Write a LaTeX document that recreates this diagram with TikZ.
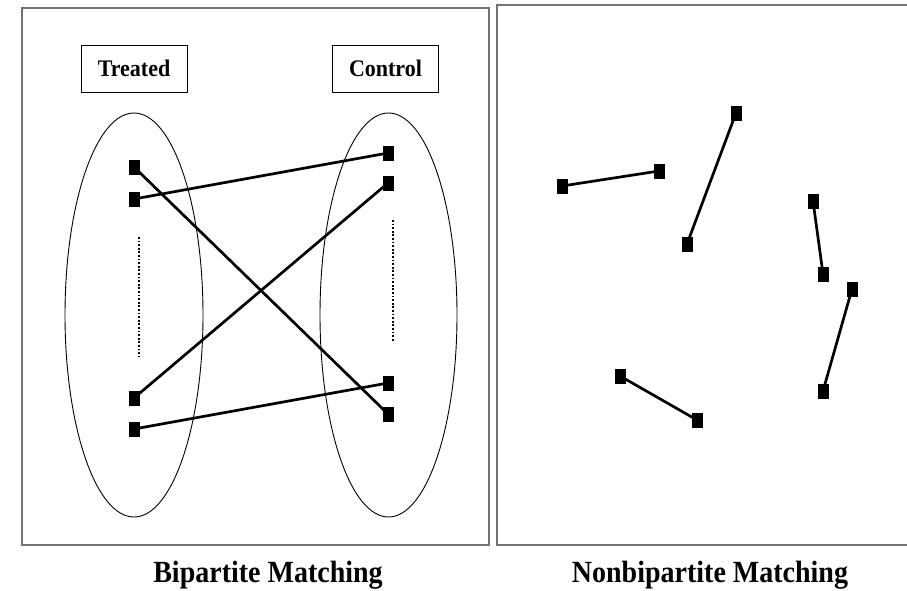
\documentclass[tikz,border=0pt]{standalone}
\usepackage{fontspec}
\setmainfont{Liberation Serif}
\usetikzlibrary{shapes.geometric}
\begin{document}
\begin{tikzpicture}[x=1pt,y=-1pt,
  panel/.style={draw=black!55,line width=1.2pt},
  label/.style={draw,line width=0.9pt,minimum width=106pt,minimum height=43.5pt,inner sep=0pt,font=\fontsize{22}{24}\selectfont\bfseries,yscale=1.08},
  title/.style={font=\fontsize{28}{30}\selectfont\bfseries,inner sep=0pt,yscale=1.1},
  group/.style={draw,line width=0.9pt,ellipse,inner sep=0pt},
  unit/.style={fill=black,minimum width=11pt,minimum height=15pt,inner sep=0pt,outer sep=0pt},
  pair/.style={line width=2.7pt},
  dots/.style={line width=2.6pt,dash pattern=on 1.8pt off 1.8pt}]
\useasboundingbox (0,0) rectangle (907,590);
\fill[white] (0,0) rectangle (907,590);
% panels
\draw[panel] (22,8) rectangle (489,545);
\draw[panel] (907,5) -- (497,5) -- (497,545) -- (907,545);
% titles
\node[title] (t1) at (268,575) {Bipartite Matching};
\node[title] (t2) at (710,575) {Nonbipartite Matching};
% labels
\node[label] (treated) at (134,68.5) {Treated};
\node[label] (control) at (385.5,68.5) {Control};
% groups
\node[group,minimum width=138pt,minimum height=404pt] (gl) at (134,315) {};
\node[group,minimum width=137pt,minimum height=404pt] (gr) at (388.5,315) {};
% left units
\node[unit] (L1) at (134,167) {};
\node[unit] (L2) at (134,199) {};
\node[unit] (L3) at (134,398) {};
\node[unit] (L4) at (134,429) {};
% right units
\node[unit] (R1) at (388,153) {};
\node[unit] (R2) at (388,183) {};
\node[unit] (R3) at (388,383) {};
\node[unit] (R4) at (388,414) {};
% dotted continuation
\coordinate (dl1) at (139,237);
\coordinate (dl2) at (139,357);
\coordinate (dr1) at (393,220);
\coordinate (dr2) at (393,342);
\draw[dots] (dl1) -- (dl2);
\draw[dots] (dr1) -- (dr2);
% bipartite pairs
\draw[pair] (L1.center) -- (R4.center);
\draw[pair] (L2.center) -- (R1.center);
\draw[pair] (L3.center) -- (R2.center);
\draw[pair] (L4.center) -- (R3.center);
% nonbipartite units
\node[unit] (A) at (562,186) {};
\node[unit] (B) at (659,171) {};
\node[unit] (C) at (736,113) {};
\node[unit] (D) at (687,244) {};
\node[unit] (E) at (813,201) {};
\node[unit] (F) at (823,274) {};
\node[unit] (G) at (852,289) {};
\node[unit] (H) at (823,391) {};
\node[unit] (I) at (620,376) {};
\node[unit] (J) at (697,420) {};
\draw[pair] (A.center) -- (B.center);
\draw[pair] (C.center) -- (D.center);
\draw[pair] (E.center) -- (F.center);
\draw[pair] (G.center) -- (H.center);
\draw[pair] (I.center) -- (J.center);
\end{tikzpicture}
\end{document}
